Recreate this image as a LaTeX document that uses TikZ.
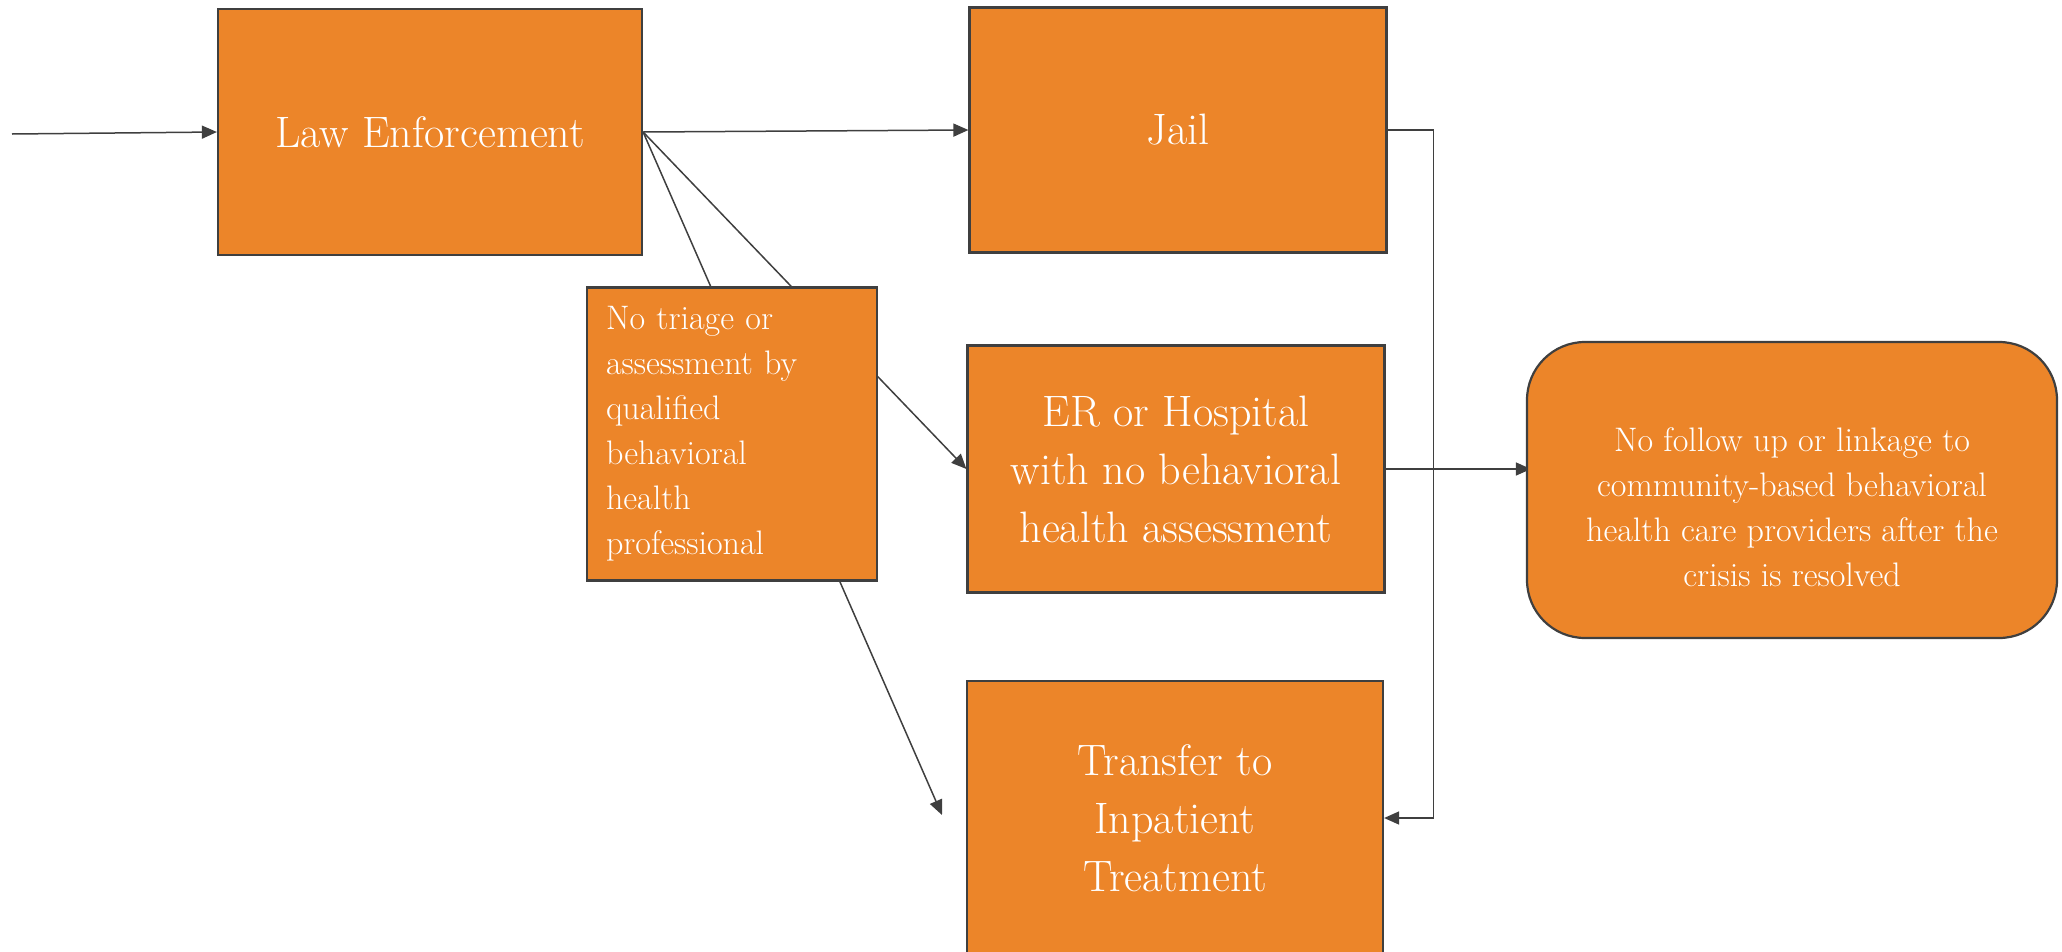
\documentclass[tikz,border=0pt]{standalone}
\usepackage{fontspec}
\usetikzlibrary{arrows.meta,backgrounds}
\definecolor{boxfill}{HTML}{EC8529}
\definecolor{edge}{HTML}{3F3F3F}
\tikzset{
  stage/.style={draw=edge, line width=2.2pt, fill=boxfill, text=white,
    inner sep=0pt, align=center, font=\fontsize{44}{58}\selectfont},
  note/.style={draw=edge, line width=2.2pt, fill=boxfill, text=white,
    font=\fontsize{34}{45}\selectfont},
  notetext/.style={text=white, inner sep=0pt, align=center,
    font=\fontsize{34}{45}\selectfont},
  flow/.style={draw=edge, line width=1.5pt,
    -{Triangle[length=15pt,width=13pt]}}
}
\begin{document}
\begin{tikzpicture}[x=1pt,y=-1pt]
\useasboundingbox (0,0) rectangle (2062,951);
\clip (0,0) rectangle (2062,951);

% main stages
\node[stage, minimum width=424pt, minimum height=246pt] (law) at (430,132) {Law Enforcement};
\node[stage, minimum width=417pt, minimum height=245pt] (jail) at (1178,130) {Jail};
\node[stage, minimum width=417pt, minimum height=247pt] (er) at (1176,469) {ER or Hospital\\with no behavioral\\health assessment};
\node[stage, minimum width=416pt, minimum height=274pt] (transfer) at (1175,818) {Transfer to\\Inpatient\\Treatment};

% notes
\node[note, inner sep=19pt, text width=252pt, align=left, minimum height=291pt] (triage) at (732,434)
  {No triage or\\assessment by\\qualified\\behavioral\\health\\professional};
\node[note, inner sep=0pt, rounded corners=58pt, minimum width=530pt, minimum height=296pt] (follow) at (1792,490) {};
\node[notetext] (followtext) at ([yshift=-17pt]follow.center)
  {No follow up or linkage to\\community-based behavioral\\health care providers after the\\crisis is resolved};

% connectors, kept behind the boxes
\coordinate (entry) at (12,134);
\coordinate (inpt) at (942,815);
\begin{pgfonlayer}{background}
  \draw[flow] (entry) -- (law.west);
  \draw[flow] (law.east) -- (jail.west);
  \draw[flow] (law.east) -- (er.west);
  \draw[flow] (law.east) -- (inpt);
  \draw[flow] (jail.east) -- ++(46,0) |- (transfer.east);
  \draw[flow] (er.east) -- ([xshift=5pt]er.east -| follow.west);
\end{pgfonlayer}
\end{tikzpicture}
\end{document}
